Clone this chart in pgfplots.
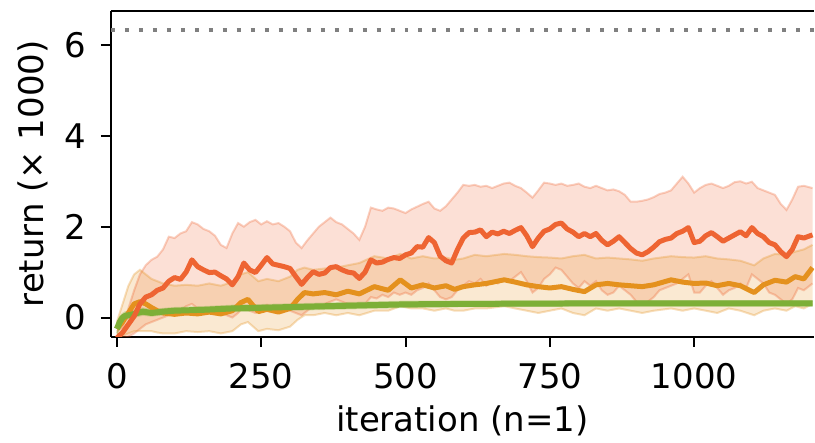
\documentclass[border=0pt]{standalone}
\usepackage{pgfplots}
\pgfplotsset{compat=1.18}
\usepackage{pgfplotstable}
\usepgfplotslibrary{fillbetween}
\usepackage{fontspec}
\setmainfont{DejaVu Sans}
\definecolor{redc}{RGB}{238,100,50}
\definecolor{orac}{RGB}{228,145,30}
\definecolor{grec}{RGB}{125,175,55}

\pgfplotstableread{
x m lo hi
0 -0.45 -0.45 -0.30
10 -0.33 -0.45 -0.20
20 -0.15 -0.42 0.20
30 0.03 -0.35 0.60
40 0.30 -0.25 0.95
50 0.45 -0.15 1.15
60 0.50 -0.10 1.27
70 0.60 -0.05 1.34
80 0.65 0.00 1.50
90 0.80 0.05 1.78
100 0.88 0.10 1.75
110 0.84 0.15 1.85
120 1.00 0.25 1.90
130 1.27 0.30 2.10
140 1.12 0.20 2.05
150 1.05 0.18 1.95
160 0.99 0.15 1.90
170 1.00 0.20 1.80
180 0.92 0.10 1.60
190 0.85 0.05 1.53
200 0.72 0.00 1.85
210 0.90 0.10 2.08
220 1.20 0.25 2.00
230 1.05 0.15 2.10
240 0.99 0.10 2.15
250 1.15 0.20 2.05
260 1.32 0.28 2.12
270 1.18 0.20 2.05
280 1.15 0.25 2.08
290 1.12 0.20 2.00
300 1.08 0.15 1.90
310 0.90 0.10 1.65
320 0.73 0.05 1.53
330 0.88 0.15 1.70
340 1.01 0.25 1.85
350 0.95 0.20 2.00
360 0.98 0.30 2.10
370 1.10 0.35 2.20
380 1.12 0.40 2.10
390 1.05 0.35 2.05
400 1.00 0.30 1.95
410 0.98 0.30 1.85
420 0.86 0.25 1.71
430 1.00 0.30 2.00
440 1.27 0.45 2.42
450 1.20 0.42 2.38
460 1.22 0.50 2.35
470 1.28 0.45 2.42
480 1.32 0.55 2.40
490 1.30 0.50 2.35
500 1.38 0.55 2.30
510 1.42 0.50 2.38
520 1.56 0.60 2.44
530 1.55 0.65 2.50
540 1.76 0.75 2.55
550 1.65 0.60 2.40
560 1.35 0.45 2.35
570 1.25 0.40 2.45
580 1.20 0.45 2.60
590 1.50 0.60 2.75
600 1.75 0.70 2.92
610 1.87 0.80 2.90
620 1.88 0.75 2.92
630 1.93 0.85 2.88
640 1.78 0.70 2.90
650 1.88 0.80 2.85
660 1.84 0.75 2.90
670 1.90 0.85 2.95
680 1.85 0.80 2.97
690 1.92 0.90 2.90
700 1.98 1.00 2.85
710 1.80 0.80 2.75
720 1.56 0.55 2.64
730 1.75 0.65 2.80
740 1.90 0.85 2.97
750 1.95 0.95 2.95
760 2.05 1.10 2.92
770 2.08 1.05 2.95
780 1.95 0.90 2.90
790 1.88 0.75 2.92
800 1.78 0.65 2.95
810 1.85 0.80 2.88
820 1.78 0.70 2.85
830 1.85 0.80 2.90
840 1.70 0.60 2.85
850 1.60 0.50 2.80
860 1.68 0.55 2.82
870 1.78 0.70 2.78
880 1.65 0.60 2.70
890 1.52 0.50 2.55
900 1.42 0.35 2.55
910 1.38 0.30 2.57
920 1.45 0.35 2.60
930 1.55 0.45 2.65
940 1.67 0.60 2.72
950 1.72 0.65 2.75
960 1.75 0.70 2.80
970 1.85 0.75 2.95
980 1.90 0.85 3.10
990 1.98 0.95 2.95
1000 1.65 0.55 2.75
1010 1.68 0.55 2.85
1020 1.80 0.70 2.92
1030 1.87 0.80 2.95
1040 1.78 0.65 2.90
1050 1.68 0.50 2.85
1060 1.75 0.60 2.90
1070 1.82 0.65 2.98
1080 1.89 0.75 3.00
1090 1.80 0.65 2.95
1100 1.98 0.95 2.99
1110 1.85 0.85 2.85
1120 1.78 0.75 2.80
1130 1.65 0.55 2.75
1140 1.60 0.50 2.70
1150 1.45 0.40 2.50
1160 1.34 0.30 2.37
1170 1.50 0.40 2.60
1180 1.78 0.65 2.88
1190 1.75 0.60 2.90
1205 1.82 0.75 2.85
}\redtab

\pgfplotstableread{
x m lo hi
0 -0.25 -0.35 -0.10
10 -0.10 -0.40 0.30
20 0.10 -0.35 0.70
30 0.30 -0.30 0.95
40 0.35 -0.30 1.05
50 0.30 -0.30 0.95
60 0.22 -0.30 0.85
70 0.15 -0.33 0.80
80 0.10 -0.35 0.75
100 0.07 -0.35 0.70
120 0.10 -0.30 0.72
140 0.08 -0.32 0.70
160 0.12 -0.30 0.75
180 0.08 -0.35 0.70
200 0.15 -0.30 0.78
215 0.33 -0.15 0.95
227 0.40 -0.10 1.00
245 0.13 -0.30 0.80
260 0.18 -0.25 0.85
280 0.12 -0.28 0.80
300 0.20 -0.20 0.90
313 0.40 -0.05 1.05
325 0.55 0.05 1.10
340 0.52 0.05 1.05
360 0.55 0.10 1.08
380 0.50 0.05 1.10
400 0.58 0.10 1.15
420 0.52 0.05 1.20
446 0.68 0.15 1.35
470 0.60 0.15 1.30
491 0.83 0.25 1.40
510 0.65 0.20 1.30
530 0.72 0.20 1.35
550 0.65 0.15 1.30
570 0.70 0.20 1.32
585 0.62 0.15 1.27
600 0.68 0.15 1.30
620 0.72 0.20 1.38
640 0.75 0.20 1.35
671 0.83 0.25 1.40
690 0.78 0.20 1.38
710 0.72 0.15 1.35
730 0.68 0.10 1.33
750 0.65 0.15 1.32
770 0.68 0.20 1.30
790 0.62 0.10 1.35
810 0.57 0.05 1.38
830 0.72 0.20 1.30
850 0.75 0.15 1.32
870 0.72 0.20 1.30
890 0.70 0.15 1.28
910 0.68 0.10 1.25
930 0.72 0.15 1.30
960 0.83 0.20 1.35
980 0.78 0.15 1.33
1000 0.75 0.20 1.32
1020 0.76 0.15 1.35
1040 0.70 0.10 1.30
1060 0.75 0.20 1.28
1080 0.70 0.15 1.25
1104 0.55 0.05 1.15
1120 0.72 0.15 1.30
1140 0.82 0.20 1.40
1160 0.78 0.15 1.38
1175 0.90 0.25 1.45
1190 0.85 0.20 1.50
1205 1.10 0.30 1.60
}\oratab

\pgfplotstableread{
x m lo hi
0 -0.25 -0.35 -0.15
5 -0.10 -0.20 0.00
10 0.00 -0.08 0.08
15 0.04 -0.03 0.12
25 0.06 -0.01 0.13
35 0.10 0.03 0.17
45 0.13 0.06 0.20
60 0.10 0.04 0.16
80 0.13 0.07 0.19
100 0.15 0.09 0.21
150 0.17 0.11 0.23
200 0.20 0.14 0.26
300 0.23 0.17 0.29
400 0.26 0.20 0.32
500 0.29 0.23 0.35
600 0.30 0.25 0.35
800 0.31 0.26 0.36
1000 0.31 0.26 0.36
1205 0.31 0.26 0.36
}\gretab

\begin{document}
\begin{tikzpicture}
\begin{axis}[
  at={(55.5pt,51.5pt)}, anchor=south west,
  scale only axis, width=352pt, height=163pt,
  xmin=-10.4, xmax=1207.6, ymin=-0.42, ymax=6.75,
  axis x line=box, axis y line=left,
  axis line style={-, line width=1pt},
  xtick={0,250,500,750,1000}, ytick={0,2,4,6},
  xtick pos=bottom, ytick pos=left,
  tick align=outside, major tick length=5pt,
  every tick/.style={black, line width=1pt},
  /pgf/number format/assume math mode=true,
  /pgf/number format/1000 sep={},
  font=\fontsize{17}{20}\selectfont,
  xticklabel style={font=\fontsize{17}{20}\selectfont, yshift=-5pt},
  yticklabel style={font=\fontsize{17}{20}\selectfont, xshift=-4pt},
  xlabel={iteration (n=1)},
  ylabel={return (× 1000)},
  xlabel style={at={(axis description cs:0.5,-0.2914)}, anchor=base},
  ylabel style={at={(axis description cs:-0.1108,0.5)}, anchor=center},
  clip=true,
]
% red band
\addplot[name path=rh, draw=redc, draw opacity=0.3, line width=1pt] table[x=x,y=hi]{\redtab};
\addplot[name path=rl, draw=redc, draw opacity=0.3, line width=1pt] table[x=x,y=lo]{\redtab};
\addplot[fill=redc, fill opacity=0.2, draw=none] fill between[of=rh and rl];
% orange band
\addplot[name path=oh, draw=orac, draw opacity=0.3, line width=1pt] table[x=x,y=hi]{\oratab};
\addplot[name path=ol, draw=orac, draw opacity=0.3, line width=1pt] table[x=x,y=lo]{\oratab};
\addplot[fill=orac, fill opacity=0.2, draw=none] fill between[of=oh and ol];
% green band
\addplot[name path=gh, draw=grec, draw opacity=0.3, line width=1pt] table[x=x,y=hi]{\gretab};
\addplot[name path=gl, draw=grec, draw opacity=0.3, line width=1pt] table[x=x,y=lo]{\gretab};
\addplot[fill=grec, fill opacity=0.2, draw=none] fill between[of=gh and gl];
% lines
\addplot[orac, line width=2.5pt, line join=round] table[x=x,y=m]{\oratab};
\addplot[grec, line width=3pt, line join=round] table[x=x,y=m]{\gretab};
\addplot[redc, line width=2.5pt, line join=round] table[x=x,y=m]{\redtab};
% reference level
\addplot[gray, line width=2pt, dash pattern=on 2pt off 5pt] coordinates {(-10.4,6.33) (1207.6,6.33)};
\end{axis}
\path (0,0) rectangle (407.5pt,220pt);
\end{tikzpicture}
\end{document}
